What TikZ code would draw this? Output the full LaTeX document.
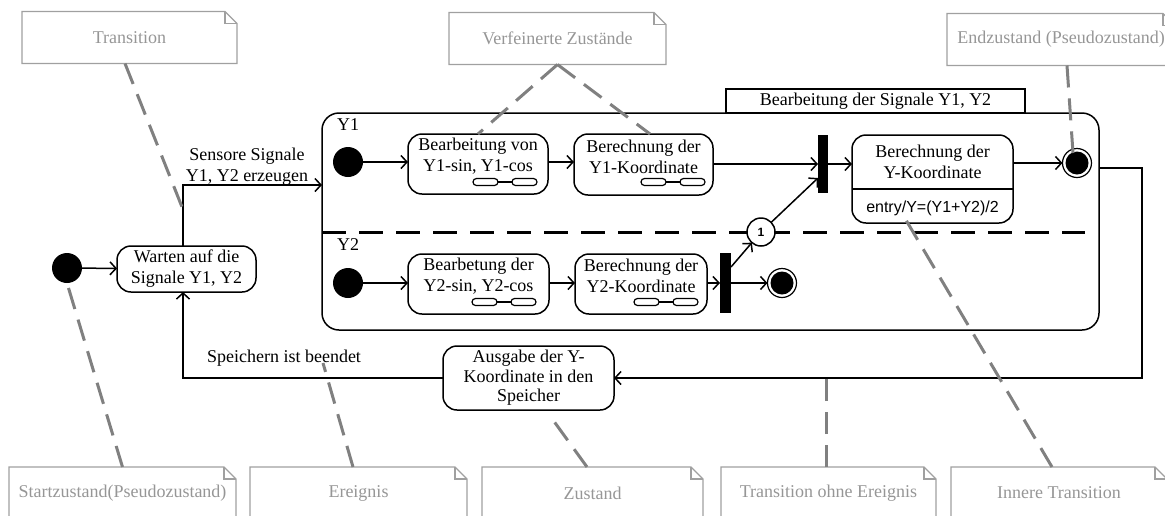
\documentclass[tikz,border=0pt]{standalone}
\usepackage{fontspec}
\setmainfont{Liberation Serif}
\newfontfamily\sansfam{Liberation Sans}
\usetikzlibrary{arrows.meta,calc}

\definecolor{notegray}{RGB}{150,150,150}
\definecolor{noteedge}{RGB}{160,160,160}
\definecolor{linkgray}{RGB}{128,128,128}

\tikzset{
  pics/decomp/.style={code={
    \draw[line width=1.2pt, rounded corners=3.5pt] (0,-3.5) rectangle (25,3.5);
    \draw[line width=1.2pt] (25,0) -- (39,0);
    \draw[line width=1.2pt, rounded corners=3.5pt] (39,-3.5) rectangle (64,3.5);
  }}
}

\begin{document}
\begin{tikzpicture}[x=1pt,y=-1pt,
  every node/.style={inner sep=0pt, outer sep=0pt},
  txt/.style={font=\fontsize{18}{21}\selectfont, align=center},
  state/.style={draw, line width=1.5pt, rounded corners=14pt},
  initial/.style={circle, fill=black, minimum size=30pt},
  final/.style={circle, draw, line width=1.2pt, fill=white, minimum size=29pt,
    path picture={\fill[black] (path picture bounding box.center) circle (11.5pt);}},
  bar/.style={fill=black, minimum width=10pt},
  arr/.style={line width=1.5pt, -{Straight Barb[length=6pt,width=13pt]}},
  flow/.style={line width=1.5pt},
  note/.style={minimum height=52pt, text=notegray, font=\fontsize{18}{21}\selectfont},
  noteedge/.style={draw=noteedge, line width=1.2pt},
  notelink/.style={draw=linkgray, line width=3pt, dash pattern=on 22pt off 11pt},
  sepline/.style={line width=3pt, dash pattern=on 24pt off 13pt},
]
\useasboundingbox (0,0) rectangle (1165,515);

% ---------- notes ----------
\node[note, minimum width=215pt] (nTrans) at (129.5,37.5) {Transition};
\node[note, minimum width=217pt] (nVerf)  at (557.5,38.5) {Verfeinerte Zustände};
\node[note, minimum width=228pt] (nEnd)   at (1061,39.5)  {Endzustand (Pseudozustand)};
\node[note, minimum width=227pt] (nStart) at (122.5,493)  {Startzustand(Pseudozustand)};
\node[note, minimum width=217pt] (nEreig) at (358.5,493)  {Ereignis};
\node[note, minimum width=221pt] (nZust)  at (592.5,493)  {Zustand};
\node[note, minimum width=215pt] (nTrOhne) at (828.5,493) {Transition ohne Ereignis};
\node[note, minimum width=216pt] (nInner) at (1059,493)   {Innere Transition};
\foreach \n in {nTrans,nVerf,nEnd,nStart,nEreig,nZust,nTrOhne,nInner}{
  \draw[noteedge] (\n.south west) -- (\n.north west) -- ([xshift=-12pt]\n.north east)
    -- ([yshift=-12pt]\n.north east) -- (\n.south east) -- cycle;
  \draw[noteedge] ([xshift=-12pt]\n.north east) |- ([yshift=-12pt]\n.north east);
}

% ---------- outer level ----------
\node[initial] (i0) at (67,268) {};
\node[state, txt, minimum width=139pt, minimum height=46pt] (wait) at (186.5,269)
  {Warten auf die\\Signale Y1, Y2};
\node[state, minimum width=171pt, minimum height=64pt,
      font=\fontsize{18}{19.5}\selectfont, align=center] (out) at (528.5,378)
  {Ausgabe der Y-\\Koordinate in den\\Speicher};

% composite state with its name tab
\node[draw, line width=1.5pt, minimum width=299pt, minimum height=24pt,
      font=\fontsize{18}{21}\selectfont] (tab) at (875.5,101)
  {Bearbeitung der Signale Y1, Y2};
\node[draw, line width=1.5pt, rounded corners=17pt, fill=none,
      minimum width=777pt, minimum height=217pt] (comp) at (710.5,221.5) {};

\node[txt] (lblY1) at (348,125) {Y1};
\node[txt] (lblY2) at (348,245) {Y2};

\coordinate (sepEnd) at (1085,232);
\draw[sepline] (comp.west |- sepEnd) -- (sepEnd);

% region Y1
\node[initial] (i1) at (348,162) {};
\node[state, minimum width=140pt, minimum height=60pt] (b1) at (478,164) {};
\node[txt] (b1t) at (478,156.5) {Bearbeitung von\\Y1-sin, Y1-cos};
\pic at (473,182) {decomp};
\node[state, minimum width=139pt, minimum height=61pt] (b2) at (643.5,164.5) {};
\node[txt] (b2t) at (643.5,156.5) {Berechnung der\\Y1-Koordinate};
\pic at (641,182) {decomp};
\node[bar, minimum height=58pt] (fork1) at (823,164) {};
\node[state, minimum width=161pt, minimum height=88pt] (b3) at (932.5,179) {};
\node[txt] (b3t) at (932.5,161.5) {Berechnung der\\Y-Koordinate};
\coordinate (b3sep) at (0,189);
\draw[flow] (b3.west |- b3sep) -- (b3.east |- b3sep);
\node[font=\sansfam\fontsize{16}{18}\selectfont] (b3e) at (932.5,208) {entry/Y=(Y1+Y2)/2};
\node[final] (f1) at (1077,163) {};

% region Y2
\node[initial] (i2) at (348,283) {};
\node[state, minimum width=141pt, minimum height=60pt] (b4) at (478.5,284) {};
\node[txt] (b4t) at (478.5,276) {Bearbetung der\\Y2-sin, Y2-cos};
\pic at (472,302) {decomp};
\node[state, minimum width=132pt, minimum height=60pt] (b5) at (641,284) {};
\node[txt] (b5t) at (641,276) {Berechnung der\\Y2-Koordinate};
\pic at (634,302) {decomp};
\node[bar, minimum width=11pt, minimum height=60pt] (fork2) at (725.5,283) {};
\node[final] (f2) at (782,283) {};
\node[circle, draw, fill=white, line width=1.5pt, minimum size=28pt,
      font=\sansfam\bfseries\fontsize{12}{14}\selectfont] (j1) at (761,232) {1};

% transitions inside the composite state
\draw[arr] (i1) -- (b1.west |- i1);
\draw[arr] (b1.east |- i1) -- (b2.west |- i1);
\draw[flow, -{Straight Barb[length=6pt,width=13pt]}] (b2.east |- fork1) -- (fork1.west);
\draw[arr] (fork1.east) -- (fork1.east -| b3.west);
\draw[arr] (b3.east |- f1) -- (f1);
\draw[arr] (i2) -- (b4.west |- i2);
\draw[arr] (b4.east |- i2) -- (b5.west |- i2);
\draw[arr] (b5.east |- fork2) -- (fork2.west);
\draw[arr] (fork2.east |- f2) -- (f2);
\draw[arr] ([yshift=16pt]fork2.east) -- (j1);
\draw[arr] (j1) -- ([yshift=-14pt]fork1.west);

% outer transitions
\coordinate (c1) at (183,185);
\coordinate (c2) at (1142,168);
\coordinate (c3) at (1142,378);
\draw[arr] (i0) -- (wait);
\draw[arr] (wait.north -| c1) -- (c1) -- (comp.west |- c1);
\draw[arr] (comp.east |- c2) -- (c2) -- (c3) -- (out.east);
\draw[arr] (out.west) -- (out.west -| c1) -- (wait.south -| c1);
\node[txt] (lblSens) at (247,167) {Sensore Signale\\Y1, Y2 erzeugen};
\node[txt] (lblSpei) at (284,358) {Speichern ist beendet};

% ---------- note links ----------
\coordinate (tTrans) at (182,207);
\coordinate (tEnd) at (1073,153);
\coordinate (tEreig) at (323,363);
\coordinate (tZust) at (553,420);
\coordinate (tOhne) at (826,379);
\coordinate (tInner) at (903,215);
\draw[notelink] ([xshift=-4.5pt]nTrans.south) -- (tTrans);
\draw[notelink] (nVerf.south) -- (b1.north);
\draw[notelink] (nVerf.south) -- ([xshift=6.5pt]b2.north);
\draw[notelink] ([xshift=6pt]nEnd.south) -- (tEnd);
\draw[notelink] (nStart.north) -- (i0.south);
\draw[notelink] ([xshift=-5.5pt]nEreig.north) -- (tEreig);
\draw[notelink] ([xshift=-5.5pt]nZust.north) -- (tZust);
\draw[notelink] ([xshift=-2.5pt]nTrOhne.north) -- (tOhne);
\draw[notelink] ([xshift=-7pt]nInner.north) -- (tInner);
\end{tikzpicture}
\end{document}
